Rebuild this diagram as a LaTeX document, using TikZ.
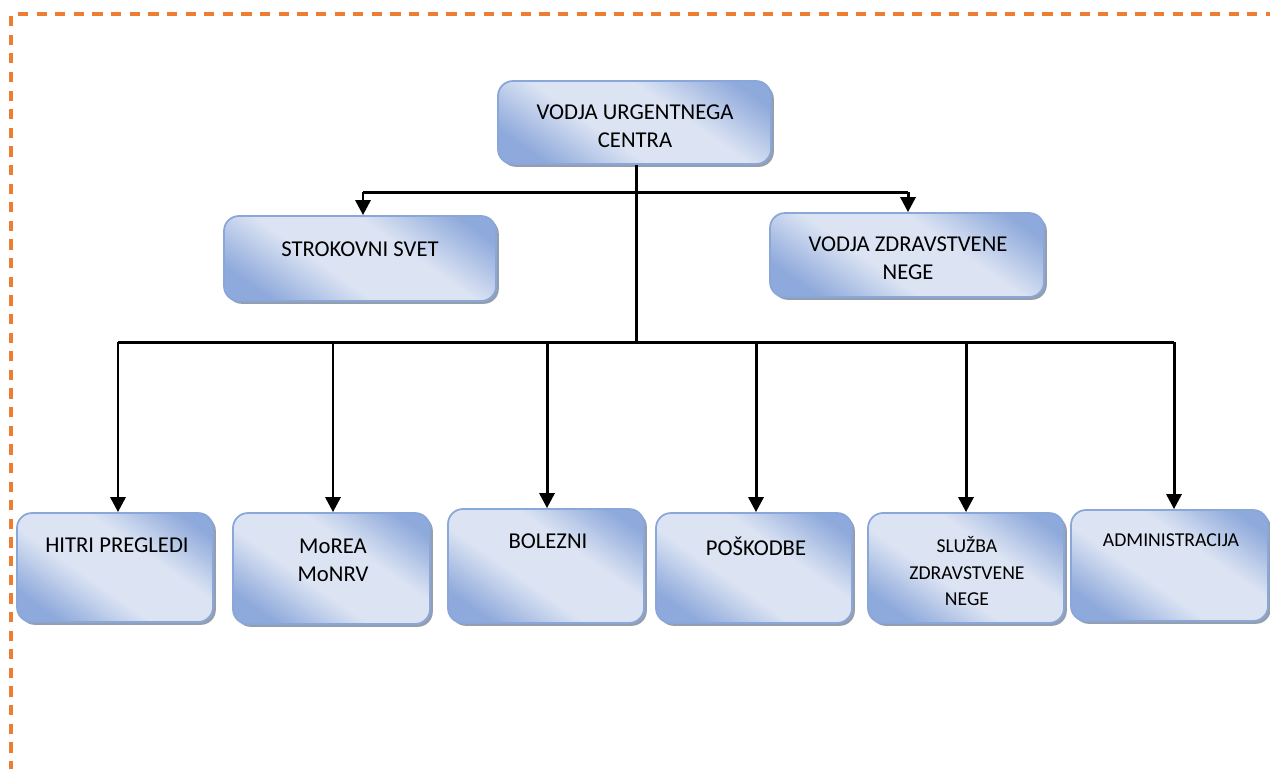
\documentclass[tikz,border=0pt]{standalone}
\usepackage{fontspec}
\setmainfont{Carlito}
\usetikzlibrary{arrows.meta,shadows,fit}

\definecolor{boxdark}{HTML}{8EA9DB}
\definecolor{boxlight}{HTML}{DCE4F3}
\definecolor{boxedge}{HTML}{8AA7DA}
\definecolor{frameorange}{HTML}{ED7D31}
\definecolor{shadowgray}{HTML}{8A93A6}

% diagonal band: darker corners, light middle
\pgfdeclareverticalshading{boxfill}{100bp}{%
  color(0bp)=(boxdark); color(24bp)=(boxdark); color(42bp)=(boxlight);
  color(60bp)=(boxlight); color(78bp)=(boxdark); color(100bp)=(boxdark)}

\tikzset{
  orgbox/.style={rounded corners=8.5pt, draw=boxedge, line width=1pt,
    shading=boxfill, shading angle=-35, inner sep=0pt,
    drop shadow={shadow xshift=1.6pt, shadow yshift=-1.6pt,
      fill=shadowgray, opacity=0.9}},
  lbl/.style={align=center, font=\fontsize{12.9}{15.8}\selectfont, inner sep=0pt},
  lblsmall/.style={align=center, font=\fontsize{11.2}{15}\selectfont, inner sep=0pt},
  wire/.style={line width=1.7pt, black},
  arr/.style={wire, -{Triangle[width=8.5pt,length=8.5pt]}},
  frame/.style={frameorange, line width=1.8pt, dash pattern=on 5.8pt off 4.8pt}
}

\begin{document}
\begin{tikzpicture}[x=0.02cm, y=-0.02cm]
  \useasboundingbox (0,0) rectangle (1270,769);

  % dashed page frame (top and left edges)
  \draw[frame] (18,14) -- (1270,14);
  \draw[frame] (11,16) -- (11,769);

  % boxes
  \node[orgbox, fit={(498,81) (771,164)}] (top) {};
  \node[orgbox, fit={(224,216) (496,301)}] (svet) {};
  \node[orgbox, fit={(770,213) (1044,297)}] (vzn) {};
  \node[orgbox, fit={(17,513) (213,622)}] (hitri) {};
  \node[orgbox, fit={(233,513) (430,624)}] (morea) {};
  \node[orgbox, fit={(448,509) (644,623)}] (bolezni) {};
  \node[orgbox, fit={(656,513) (852,623)}] (poskodbe) {};
  \node[orgbox, fit={(868,513) (1064,623)}] (sluzba) {};
  \node[orgbox, fit={(1071,510) (1268,621)}] (admin) {};

  % labels
  \node[lbl] (topt) at (635,126) {VODJA URGENTNEGA\\CENTRA};
  \node[lbl] (svett) at (360,249) {STROKOVNI SVET};
  \node[lbl] (vznt) at (908,258) {VODJA ZDRAVSTVENE\\NEGE};
  \node[lbl] (hitrit) at (117,545) {HITRI PREGLEDI};
  \node[lbl] (moreat) at (333,560) {MoREA\\MoNRV};
  \node[lbl] (boleznit) at (548,541) {BOLEZNI};
  \node[lbl] (poskodbet) at (756,546) {POŠKODBE};
  \node[lblsmall] (sluzbat) at (967,571) {SLUŽBA\\ZDRAVSTVENE\\NEGE};
  \node[lblsmall] (admint) at (1171,540) {ADMINISTRACIJA};

  % connector junctions
  \coordinate (hub) at (636,342);
  \coordinate (upl) at (363,192);
  \coordinate (upr) at (908,192);
  \coordinate (b1) at (118,342);
  \coordinate (b2) at (333,342);
  \coordinate (b3) at (547,342);
  \coordinate (b4) at (756,342);
  \coordinate (b5) at (966,342);
  \coordinate (b6) at (1174,342);

  % trunk and branches
  \draw[wire] (top.south -| hub) -- (hub);
  \draw[wire] (upl) -- (upr);
  \draw[arr] (upl) -- (upl |- svet.north);
  \draw[arr] (upr) -- (upr |- vzn.north);
  \draw[wire] (b1) -- (b6);
  \draw[arr] (b1) -- (b1 |- hitri.north);
  \draw[arr] (b2) -- (b2 |- morea.north);
  \draw[arr] (b3) -- (b3 |- bolezni.north);
  \draw[arr] (b4) -- (b4 |- poskodbe.north);
  \draw[arr] (b5) -- (b5 |- sluzba.north);
  \draw[arr] (b6) -- (b6 |- admin.north);
\end{tikzpicture}
\end{document}
